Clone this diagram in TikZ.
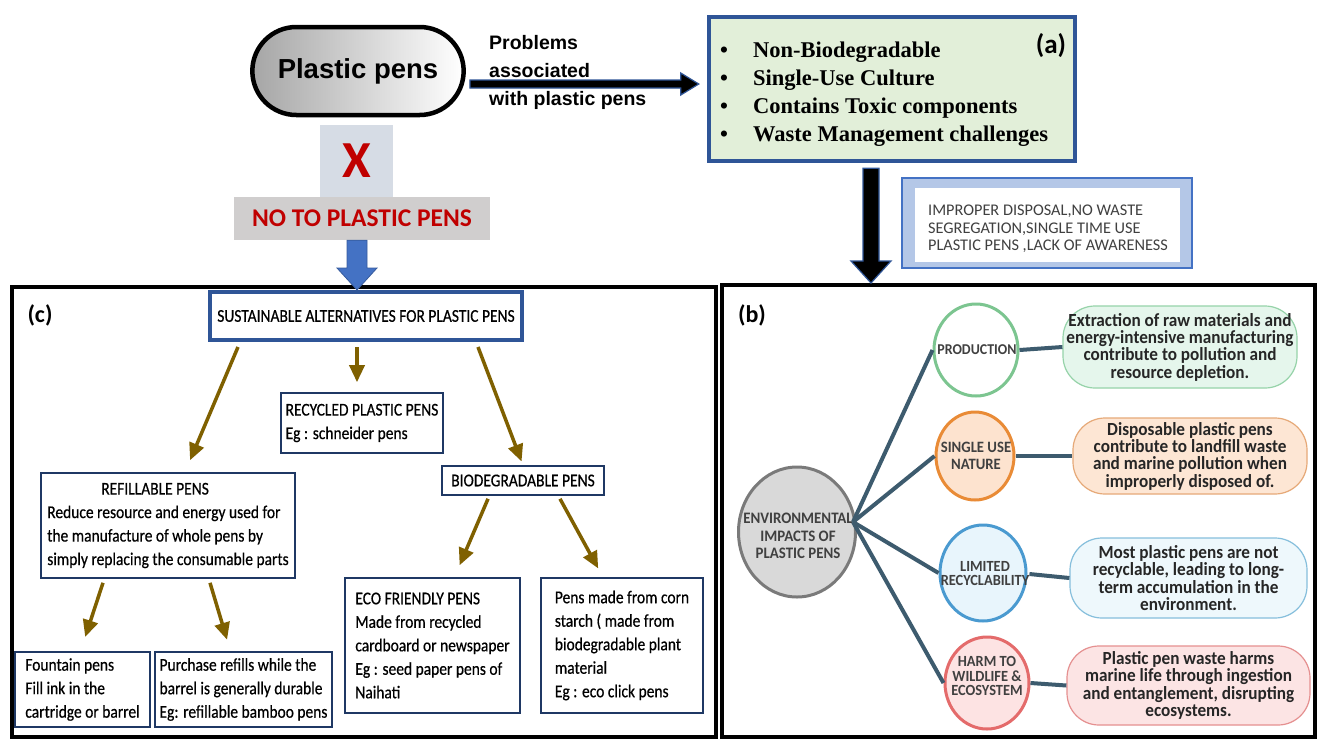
\documentclass[tikz,border=0pt]{standalone}
\usepackage{fontspec}
\setmainfont{Carlito}
\newfontfamily\arialfont{Liberation Sans}
\newfontfamily\timesfont{Liberation Serif}
\newfontfamily\narrowfont[FakeStretch=0.86,FakeBold=0.5]{Carlito}
\newfontfamily\condfont[FakeStretch=0.93]{Carlito}
\usetikzlibrary{arrows.meta,calc,shapes.geometric,shapes.misc}
\definecolor{AltBlue}{HTML}{2F5597}
\definecolor{ArrBlue}{HTML}{4472C4}
\definecolor{ProbFill}{HTML}{E2EFD9}
\definecolor{CauseFill}{HTML}{B4C7E7}
\definecolor{XFill}{HTML}{D6DCE5}
\definecolor{NoFill}{HTML}{D0CECE}
\definecolor{NoRed}{HTML}{C00000}
\definecolor{Olive}{HTML}{7F6000}
\definecolor{BoxNavy}{HTML}{1F3864}
\definecolor{FanSlate}{HTML}{3D5B6E}
\definecolor{TxtGray}{HTML}{404040}
\definecolor{ProdLine}{HTML}{7CC590}
\definecolor{SingLine}{HTML}{E98B36}
\definecolor{SingFill}{HTML}{FDE3CF}
\definecolor{LimLine}{HTML}{4A9AD0}
\definecolor{LimFill}{HTML}{E8F5FC}
\definecolor{HarmLine}{HTML}{E46B6B}
\definecolor{HarmFill}{HTML}{FDE3E3}
\definecolor{EnvLine}{HTML}{7A7A7A}
\definecolor{EnvFill}{HTML}{D9D9D9}
\definecolor{EffGreen}{HTML}{E5F6EC}
\definecolor{EffGreenL}{HTML}{96D3A9}
\definecolor{EffOrange}{HTML}{FDE6D4}
\definecolor{EffOrangeL}{HTML}{E6A978}
\definecolor{EffBlue}{HTML}{EEF8FC}
\definecolor{EffBlueL}{HTML}{86BFDC}
\definecolor{EffRed}{HTML}{FCE4E4}
\definecolor{EffRedL}{HTML}{E59090}
\tikzset{
  fat right/.style args={#1/#2/#3}{
    to path={
      ($(\tikztostart)+(0,-#1)$) -- ($(\tikztotarget|-\tikztostart)+(-#3,-#1)$)
      -- ($(\tikztotarget|-\tikztostart)+(-#3,-#2)$) -- (\tikztotarget|-\tikztostart)
      -- ($(\tikztotarget|-\tikztostart)+(-#3,#2)$) -- ($(\tikztotarget|-\tikztostart)+(-#3,#1)$)
      -- ($(\tikztostart)+(0,#1)$) -- cycle
    }
  },
  fat down/.style args={#1/#2/#3}{
    to path={
      ($(\tikztostart)+(-#1,0)$) -- ($(\tikztostart|-\tikztotarget)+(-#1,-#3)$)
      -- ($(\tikztostart|-\tikztotarget)+(-#2,-#3)$) -- (\tikztostart|-\tikztotarget)
      -- ($(\tikztostart|-\tikztotarget)+(#2,-#3)$) -- ($(\tikztostart|-\tikztotarget)+(#1,-#3)$)
      -- ($(\tikztostart)+(#1,0)$) -- cycle
    }
  },
  panel/.style={
    draw=black, line width=4, fill=white
  },
  tag/.style={
    font=\bfseries\fontsize{24}{26}\selectfont, inner sep=0pt
  },
  altbox/.style={
    draw=BoxNavy, line width=1.6, fill=white, align=left,
    font=\narrowfont\fontsize{18}{23.5}\selectfont
  },
  alt arrow/.style={
    draw=Olive, line width=3.5, -{Triangle[length=17,width=15]}
  },
  impact/.style 2 args={
    ellipse, draw=#1, fill=#2, line width=3, inner sep=0pt
  },
  impact text/.style={
    align=center, inner sep=0pt, text=TxtGray,
    font=\condfont\bfseries\fontsize{15}{15}\selectfont
  },
  effect/.style 2 args={
    draw=#1, fill=#2, line width=1.2, rounded corners=32, align=center,
    font=\condfont\bfseries\fontsize{18.5}{17.3}\selectfont, text=black!85
  },
  fan/.style={
    draw=FanSlate, line width=4
  },
}

\begin{document}
\begin{tikzpicture}[x=1pt, y=-1pt]
  \fill[white] (0,0) rectangle (1318,740);
  \useasboundingbox (0,0) rectangle (1318,740);

  % top row
  \node[rounded rectangle, draw=black, line width=4.5, left color=gray!70, right color=white,
    minimum width=218, minimum height=88,
    font=\arialfont\bfseries\fontsize{27.5}{30}\selectfont] (pens) at (358,71) {Plastic pens};
  \node[anchor=west, align=left, inner sep=0pt,
    font=\arialfont\bfseries\fontsize{19.5}{28}\selectfont] (probs) at (489,72)
    {Problems\\associated\\with plastic pens};
  \node[draw=AltBlue, line width=4.5, fill=ProbFill, minimum width=366, minimum height=144] (boxa) at (892,89) {};
  \node[anchor=west, inner sep=0pt, font=\timesfont\bfseries\fontsize{22.5}{28}\selectfont] (alist) at (720,94)
    {\begin{tabular}{@{}p{33pt}@{}l@{}}
      \textbullet & Non-Biodegradable\\
      \textbullet & Single-Use Culture\\
      \textbullet & Contains Toxic components\\
      \textbullet & Waste Management challenges
    \end{tabular}};
  \node[tag, font=\bfseries\fontsize{27}{28}\selectfont] (taga) at (1051,46) {(a)};
  \coordinate (arrS) at ($(pens.east)+(4,13)$);
  \coordinate (arrE) at ($(boxa.west|-arrS)+(-8,0)$);
  \draw[fat right=4/11/18, fill=black, draw=AltBlue, line width=1.2] (arrS) to (arrE);

  % causes
  \node[draw=ArrBlue, line width=2, fill=CauseFill, minimum width=290, minimum height=90] (cause) at (1047,223) {};
  \node[fill=white, minimum width=265, minimum height=74] (causein) at (1047.5,225) {};
  \node[align=left, text=TxtGray, inner sep=0pt, font=\fontsize{16.3}{17.5}\selectfont] (causetxt) at (1048,229)
    {IMPROPER DISPOSAL,NO WASTE\\SEGREGATION,SINGLE TIME USE\\PLASTIC PENS ,LACK OF AWARENESS};

  % no to plastic pens
  \node[fill=XFill, minimum width=73, minimum height=72, text=NoRed,
    font=\bfseries\fontsize{52}{52}\selectfont] (xbox) at (356.5,161) {X};
  \node[fill=NoFill, minimum width=256, minimum height=43, text=NoRed,
    font=\bfseries\fontsize{25.5}{26}\selectfont] (nobox) at (362,218.5) {NO TO PLASTIC PENS};

  % panels
  \node[panel, minimum width=704, minimum height=450] (panelc) at (364,512) {};
  \node[panel, minimum width=593, minimum height=452] (panelb) at (1018.5,511) {};
  \node[tag] (tagc) at (40,315) {(c)};
  \node[tag] (tagb) at (752,315) {(b)};

  % panel (c)
  \node[draw=AltBlue, line width=4, fill=white, minimum width=312, minimum height=48,
    font=\narrowfont\fontsize{18}{20}\selectfont] (sust) at (366,316) {SUSTAINABLE ALTERNATIVES FOR PLASTIC PENS};
  \node[altbox, minimum width=162, minimum height=60] (recyc) at (362,423)
    {RECYCLED PLASTIC PENS\\Eg : schneider pens};
  \node[altbox, minimum width=254, minimum height=105] (refill) at (168,525.5)
    {\hspace*{54pt}REFILLABLE PENS\\Reduce resource and energy used for\\the manufacture of whole pens by\\simply replacing the consumable parts};
  \node[altbox, align=center, minimum width=162, minimum height=29] (bio) at (523,480.5) {BIODEGRADABLE PENS};
  \node[altbox, minimum width=135, minimum height=75] (fount) at (82.5,689.5)
    {Fountain pens\\Fill ink in the\\cartridge or barrel};
  \node[altbox, minimum width=177, minimum height=75] (purch) at (243.5,689.5)
    {Purchase refills while the\\barrel is generally durable\\Eg: refillable bamboo pens};
  \node[altbox, minimum width=175, minimum height=135] (eco) at (432.5,645.5)
    {ECO FRIENDLY PENS\\Made from recycled\\cardboard or newspaper\\Eg : seed paper pens of\\Naihati};
  \node[altbox, minimum width=162, minimum height=135] (corn) at (622,645.5)
    {Pens made from corn\\starch ( made from\\biodegradable plant\\material\\Eg : eco click pens};

  \draw[alt arrow, shorten >=13] ([xshift=-128,yshift=-5]sust.south) -- ([xshift=17]refill.north);
  \draw[alt arrow, shorten >=10] ([xshift=-9,yshift=-5]sust.south) -- ([xshift=-5]recyc.north);
  \draw[alt arrow, shorten >=4] ([xshift=112,yshift=-5]sust.south) -- (bio.north);
  \draw[alt arrow, shorten >=15] ([xshift=-65,yshift=-4]refill.south) -- ([xshift=-2]fount.north);
  \draw[alt arrow, shorten >=12] ([xshift=42,yshift=-4]refill.south) -- ([xshift=-13]purch.north);
  \draw[alt arrow, shorten >=13] ([xshift=-35,yshift=-3]bio.south) -- ([xshift=22]eco.north);
  \draw[alt arrow, shorten >=10] ([xshift=37,yshift=-3]bio.south) -- ([xshift=-19]corn.north);

  % panel (b)
  \node[impact={EnvLine}{EnvFill}, minimum width=117, minimum height=130] (env) at (797,532) {};
  \node[impact text, font=\condfont\bfseries\fontsize{16}{17.5}\selectfont] (envtxt) at (798,536)
    {ENVIRONMENTAL\\IMPACTS OF\\PLASTIC PENS};
  \node[impact={ProdLine}{white}, minimum width=84, minimum height=92] (prod) at (976,350) {};
  \node[impact text] (prodtxt) at (977,350) {PRODUCTION};
  \node[impact={SingLine}{SingFill}, minimum width=78, minimum height=88] (sing) at (975,456) {};
  \node[impact text, font=\condfont\bfseries\fontsize{15.8}{17}\selectfont] (singtxt) at (976,456) {SINGLE USE\\NATURE};
  \node[impact={LimLine}{LimFill}, minimum width=86, minimum height=96] (lim) at (983,573) {};
  \node[impact text, font=\condfont\bfseries\fontsize{15.5}{14}\selectfont] (limtxt) at (985,574) {LIMITED\\RECYCLABILITY};
  \node[impact={HarmLine}{HarmFill}, minimum width=84, minimum height=92] (harm) at (987,683) {};
  \node[impact text, font=\condfont\bfseries\fontsize{15.5}{14.5}\selectfont] (harmtxt) at (987,676) {HARM TO\\WILDLIFE \&\\ECOSYSTEM};

  \node[effect={EffGreenL}{EffGreen}, minimum width=234, minimum height=82] (eff1) at (1180,347)
    {Extraction of raw materials and\\energy-intensive manufacturing\\contribute to pollution and\\resource depletion.};
  \node[effect={EffOrangeL}{EffOrange}, minimum width=234, minimum height=76] (eff2) at (1190,456)
    {Disposable plastic pens\\contribute to landfill waste\\and marine pollution when\\improperly disposed of.};
  \node[effect={EffBlueL}{EffBlue}, minimum width=237, minimum height=80] (eff3) at (1188.5,578)
    {Most plastic pens are not\\recyclable, leading to long-\\term accumulation in the\\environment.};
  \node[effect={EffRedL}{EffRed}, minimum width=243, minimum height=79] (eff4) at (1188.5,685.5)
    {Plastic pen waste harms\\marine life through ingestion\\and entanglement, disrupting\\ecosystems.};

  \coordinate (hub) at (853,522);
  \draw[fan] (hub) -- (prod.west);
  \draw[fan] (hub) -- (sing.west);
  \draw[fan] (hub) -- (lim.west);
  \draw[fan] (hub) -- (harm.west);
  \draw[fan] (prod.east) -- (eff1.west);
  \draw[fan] (sing.east) -- (eff2.west);
  \draw[fan] (limtxt.east) -- (eff3.west);
  \draw[fan] (harm.east) -- (eff4.west);

  % big arrows
  \coordinate (noS) at ($(nobox.south)+(-5,0)$);
  \draw[fat down=10/20/22, fill=ArrBlue, draw=ArrBlue!80!black, line width=0.8] (noS) to (sust.north);
  \coordinate (aS) at ($(boxa.south)+(-21,5)$);
  \draw[fat down=8/20/22, fill=black, draw=AltBlue, line width=1.2] (aS) to (panelb.north);
\end{tikzpicture}
\end{document}
